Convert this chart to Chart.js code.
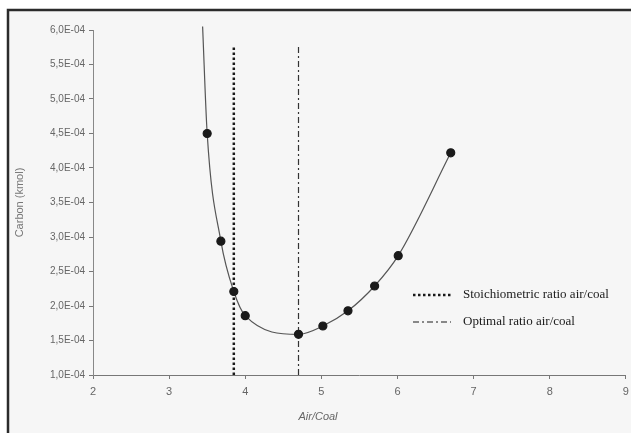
<!DOCTYPE html>
<html>
<head>
<meta charset="utf-8">
<script src="https://cdn.jsdelivr.net/npm/chart.js@4.4.1/dist/chart.umd.min.js"></script>
<style>
  body { margin: 0; background: #fff; }
  canvas { display: block; }
</style>
</head>
<body>
<canvas id="chart" width="631" height="433"></canvas>
<script>
// measured points (Air/Coal ratio vs carbon, kmol)
const airCoal = [3.44, 3.5, 3.68, 3.85, 4.0, 4.7, 5.02, 5.35, 5.7, 6.01, 6.7];
const carbon = [6.05e-4, 4.5e-4, 2.94e-4, 2.21e-4, 1.86e-4, 1.59e-4, 1.71e-4, 1.93e-4, 2.29e-4, 2.73e-4, 4.22e-4];
const markers = [0, 4, 4, 4, 4, 4, 4, 4, 4, 4, 4];

const stoichX = [3.85, 3.85];
const optimalX = [4.7, 4.7];
const refY = [1.0e-4, 5.77e-4];

const xTicks = [2, 3, 4, 5, 6, 7, 8, 9];
const yTicks = [1.0e-4, 1.5e-4, 2.0e-4, 2.5e-4, 3.0e-4, 3.5e-4, 4.0e-4, 4.5e-4, 5.0e-4, 5.5e-4, 6.0e-4];
const yTickLabels = ['1,0E-04', '1,5E-04', '2,0E-04', '2,5E-04', '3,0E-04', '3,5E-04', '4,0E-04', '4,5E-04', '5,0E-04', '5,5E-04', '6,0E-04'];

const legendItems = [
  { text: 'Stoichiometric ratio air/coal', dash: [2.5, 2.5], width: 2.5 },
  { text: 'Optimal ratio air/coal', dash: [6, 3, 2, 3], width: 1.2 }
];

function pts(xs, ys) { return xs.map((x, i) => ({ x: x, y: ys[i] })); }

// paper background and the frame lines of the scan
const frame = {
  id: 'frame',
  beforeDraw(c) {
    const ctx = c.ctx;
    ctx.save();
    ctx.fillStyle = '#fff';
    ctx.fillRect(0, 0, c.width, c.height);
    ctx.fillStyle = '#f6f6f6';
    ctx.fillRect(8, 10, c.width - 8, c.height - 10);
    ctx.strokeStyle = '#2b2b2b';
    ctx.lineWidth = 2.5;
    ctx.beginPath();
    ctx.moveTo(8, 433); ctx.lineTo(8, 10); ctx.lineTo(631, 10);
    ctx.stroke();
    ctx.restore();
  },
  afterDraw(c) {
    const ctx = c.ctx;
    ctx.save();
    // x title, sits left of centre in the original
    ctx.fillStyle = '#666';
    ctx.font = 'italic 11px Arial, "Liberation Sans"';
    ctx.textAlign = 'center';
    ctx.textBaseline = 'middle';
    ctx.fillText('Air/Coal', 318, 417);
    // legend
    ctx.font = '13px "Liberation Serif", "DejaVu Serif", serif';
    ctx.textAlign = 'left';
    legendItems.forEach((it, i) => {
      const y = 295 + i * 27;
      ctx.strokeStyle = '#1a1a1a';
      ctx.lineWidth = it.width;
      ctx.setLineDash(it.dash);
      ctx.beginPath();
      ctx.moveTo(413, y); ctx.lineTo(451, y);
      ctx.stroke();
      ctx.setLineDash([]);
      ctx.fillStyle = '#1a1a1a';
      ctx.fillText(it.text, 463, y);
    });
    ctx.restore();
  }
};

new Chart(document.getElementById('chart'), {
  type: 'scatter',
  data: {
    datasets: [
      {
        data: pts(airCoal, carbon),
        showLine: true,
        cubicInterpolationMode: 'monotone',
        borderColor: '#555',
        borderWidth: 1.2,
        pointRadius: markers,
        pointBackgroundColor: '#1a1a1a',
        pointBorderColor: '#1a1a1a',
        clip: false
      },
      {
        data: pts(stoichX, refY),
        showLine: true,
        borderColor: '#1a1a1a',
        borderWidth: 2.5,
        borderDash: [2.5, 2.5],
        pointRadius: 0
      },
      {
        data: pts(optimalX, refY),
        showLine: true,
        borderColor: '#333',
        borderWidth: 1.2,
        borderDash: [6, 3, 2, 3],
        pointRadius: 0
      }
    ]
  },
  options: {
    responsive: false,
    animation: false,
    layout: { padding: { top: 30, left: 0, right: 1, bottom: 0 } },
    plugins: { legend: { display: false }, tooltip: { enabled: false } },
    scales: {
      x: {
        type: 'linear',
        min: 2,
        max: 9,
        afterBuildTicks: s => { s.ticks = xTicks.map(v => ({ value: v })); },
        afterFit: s => { s.height = 58; s.paddingLeft = 0; s.paddingRight = 0; },
        border: { color: '#777', dash: [3, 2], width: 1 },
        grid: { drawOnChartArea: false, tickLength: 4, color: '#777' },
        ticks: { color: '#666', font: { size: 11, family: 'Arial' }, padding: 6 }
      },
      y: {
        min: 1.0e-4,
        max: 6.0e-4,
        afterBuildTicks: s => { s.ticks = yTicks.map(v => ({ value: v })); },
        afterFit: s => { s.width = 93; },
        border: { color: '#888', dash: [1.5, 1.5], width: 1 },
        grid: { drawOnChartArea: false, tickLength: 4, color: '#777' },
        ticks: {
          color: '#666',
          font: { size: 10, family: 'Arial' },
          padding: 4,
          callback: (v, i) => yTickLabels[i]
        },
        title: {
          display: true,
          text: 'Carbon (kmol)',
          color: '#777',
          font: { size: 11, family: 'Arial' },
          padding: { top: 13, bottom: 0 }
        }
      }
    }
  },
  plugins: [frame]
});
</script>
</body>
</html>
